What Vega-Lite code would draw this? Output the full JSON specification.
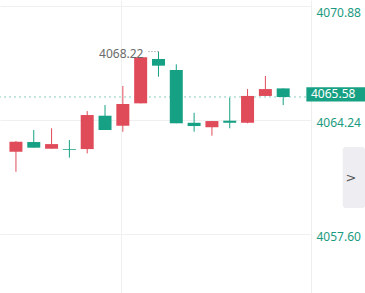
{
  "$schema": "https://vega.github.io/schema/vega-lite/v6.json",
  "width": 311,
  "height": 293,
  "autosize": "none",
  "padding": {"left": 0, "top": 0, "right": 54, "bottom": 0},
  "background": "#ffffff",
  "config": {"view": {"stroke": null}, "font": "Noto Sans"},
  "datasets": {
    "candles": [
      {"i": 1, "open": 4062.40, "close": 4062.98, "high": 4063.02, "low": 4061.23},
      {"i": 2, "open": 4062.96, "close": 4062.63, "high": 4063.66, "low": 4062.63},
      {"i": 3, "open": 4062.57, "close": 4062.84, "high": 4063.76, "low": 4062.57},
      {"i": 4, "open": 4062.56, "close": 4062.51, "high": 4063.08, "low": 4062.05},
      {"i": 5, "open": 4062.55, "close": 4064.53, "high": 4064.76, "low": 4062.30},
      {"i": 6, "open": 4064.49, "close": 4063.66, "high": 4065.11, "low": 4063.66},
      {"i": 7, "open": 4063.91, "close": 4065.17, "high": 4066.22, "low": 4063.56},
      {"i": 8, "open": 4065.21, "close": 4067.89, "high": 4067.89, "low": 4065.21},
      {"i": 9, "open": 4067.79, "close": 4067.40, "high": 4068.22, "low": 4066.76},
      {"i": 10, "open": 4067.15, "close": 4064.05, "high": 4067.48, "low": 4064.05},
      {"i": 11, "open": 4064.08, "close": 4063.89, "high": 4064.66, "low": 4063.56},
      {"i": 12, "open": 4063.82, "close": 4064.18, "high": 4064.18, "low": 4063.33},
      {"i": 13, "open": 4064.20, "close": 4064.08, "high": 4065.54, "low": 4063.76},
      {"i": 14, "open": 4064.08, "close": 4065.64, "high": 4066.04, "low": 4064.05},
      {"i": 15, "open": 4065.64, "close": 4066.04, "high": 4066.80, "low": 4065.64},
      {"i": 16, "open": 4066.08, "close": 4065.58, "high": 4066.08, "low": 4065.11}
    ],
    "maxpt": [{"i": 9, "v": 4068.22, "label": "4068.22"}],
    "last": [{"price": 4065.58, "label": "4065.58"}],
    "panel": [{"label": ">"}]
  },
  "layer": [
    {
      "data": {"name": "last"},
      "mark": {"type": "rule", "color": "#8ccfbf", "strokeDash": [2, 3], "strokeWidth": 1},
      "encoding": {
        "y": {
          "field": "price", "type": "quantitative",
          "scale": {"domain": [4054.18, 4071.22], "nice": false, "zero": false},
          "axis": {
            "orient": "right", "values": [4057.60, 4064.24, 4070.88], "format": ".2f",
            "title": null, "grid": true, "gridColor": "#f0f0f0", "domain": true, "domainColor": "#eeeeee",
            "ticks": false, "labelColor": "#1a9a80", "labelFont": "Noto Sans", "labelFontSize": 12,
            "labelPadding": 5, "labelOffset": 2, "labelFlush": 10
          }
        }
      }
    },
    {
      "data": {"name": "candles"},
      "mark": {"type": "rule", "strokeWidth": 1},
      "encoding": {
        "x": {
          "field": "i", "type": "quantitative",
          "scale": {"domain": [0.386, 17.28], "nice": false, "zero": false},
          "axis": {"values": [6.9], "grid": true, "gridColor": "#f0f0f0", "labels": false, "ticks": false, "domain": false, "title": null}
        },
        "y": {"field": "low", "type": "quantitative"},
        "y2": {"field": "high"},
        "color": {"condition": {"test": "datum.close > datum.open", "value": "#e04b5a"}, "value": "#17a184"}
      }
    },
    {
      "data": {"name": "candles"},
      "mark": {"type": "bar", "size": 13},
      "encoding": {
        "x": {"field": "i", "type": "quantitative"},
        "y": {"field": "open", "type": "quantitative"},
        "y2": {"field": "close"},
        "color": {"condition": {"test": "datum.close > datum.open", "value": "#e04b5a"}, "value": "#17a184"}
      }
    },
    {
      "data": {"name": "maxpt"},
      "mark": {"type": "rule", "color": "#888888", "strokeDash": [1, 2], "strokeWidth": 1},
      "encoding": {
        "x": {"field": "i", "type": "quantitative"},
        "x2": {"datum": 8.43},
        "y": {"field": "v", "type": "quantitative"}
      }
    },
    {
      "data": {"name": "maxpt"},
      "mark": {"type": "text", "align": "right", "baseline": "middle", "dx": -15, "dy": 2, "fontSize": 12, "color": "#6b6b6b", "font": "Noto Sans"},
      "encoding": {
        "x": {"field": "i", "type": "quantitative"},
        "y": {"field": "v", "type": "quantitative"},
        "text": {"field": "label"}
      }
    },
    {
      "data": {"name": "last"},
      "mark": {"type": "rect", "color": "#17a184", "clip": false},
      "encoding": {
        "x": {"datum": 17.3, "type": "quantitative"},
        "x2": {"datum": 20.6},
        "y": {"datum": 4066.14, "type": "quantitative"},
        "y2": {"datum": 4065.31}
      }
    },
    {
      "data": {"name": "last"},
      "mark": {"type": "text", "align": "left", "baseline": "middle", "dx": 5, "dy": -2.5, "fontSize": 12, "color": "#ffffff", "font": "Noto Sans"},
      "encoding": {
        "x": {"datum": 17.28, "type": "quantitative"},
        "y": {"field": "price", "type": "quantitative"},
        "text": {"field": "label"}
      }
    },
    {
      "data": {"name": "panel"},
      "mark": {"type": "rect", "color": "#eeeef2", "cornerRadius": 3},
      "encoding": {
        "x": {"datum": 19.34, "type": "quantitative"},
        "x2": {"datum": 20.6},
        "y": {"datum": 4062.67, "type": "quantitative"},
        "y2": {"datum": 4059.12}
      }
    },
    {
      "data": {"name": "panel"},
      "mark": {"type": "text", "align": "center", "baseline": "middle", "fontSize": 13, "color": "#555555", "font": "DejaVu Sans"},
      "encoding": {
        "x": {"datum": 19.8, "type": "quantitative"},
        "y": {"datum": 4060.87, "type": "quantitative"},
        "text": {"field": "label"}
      }
    }
  ]
}
